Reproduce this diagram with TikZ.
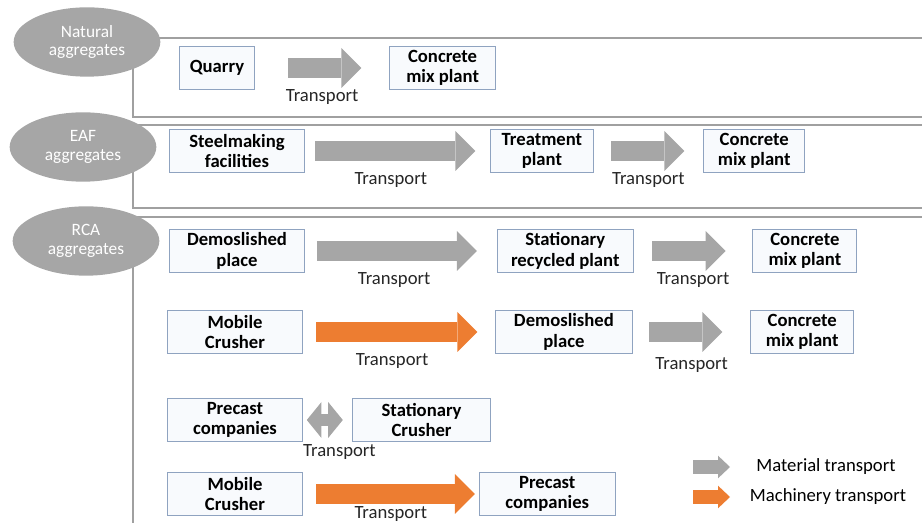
\documentclass[tikz,border=0pt]{standalone}
\usepackage{fontspec}
\setmainfont{Carlito}
\usetikzlibrary{positioning,arrows.meta,shapes.geometric}

\definecolor{matgray}{RGB}{166,166,166}
\definecolor{machorange}{RGB}{237,125,49}
\definecolor{boxline}{RGB}{143,163,192}
\definecolor{boxfill}{RGB}{248,250,253}
\definecolor{framegray}{RGB}{160,160,160}

\begin{document}
\begin{tikzpicture}[
    x=0.75pt, y=-0.75pt,
    every node/.style={inner sep=1pt},
    stage/.style={draw=boxline, fill=boxfill, line width=0.7pt, align=center,
        minimum height=32pt, minimum width=#1,
        font=\bfseries\fontsize{14}{15.5}\selectfont},
    stage/.default=101pt,
    group/.style={ellipse, fill=matgray, text=white, align=center,
        minimum width=110pt, minimum height=52pt, inner sep=0pt,
        font=\fontsize{13}{14}\selectfont},
    panel/.style={draw=framegray, line width=1.5pt},
    material/.style={draw=matgray, line width=15pt,
        -{Triangle[length=15pt,width=30pt,line width=0pt]}},
    machinery/.style={material, draw=machorange},
    transp/.style={text=black!85, font=\fontsize{14}{16}\selectfont, yshift=-22pt},
    keytext/.style={font=\fontsize{14}{16}\selectfont}
]
\useasboundingbox (0,0) rectangle (922,523);

% Rahmen der drei Gruppen
\draw[panel] (133,38) rectangle (940,117);
\draw[panel] (133,125) rectangle (940,208);
\draw[panel] (133,217) rectangle (940,560);

\node[group] (natural) at (87,42) {Natural\\aggregates};
\node[group] (eaf) at (83,147) {EAF\\aggregates};
\node[group] (rca) at (86,241) {RCA\\aggregates};

% Natural aggregates
\node[stage=56pt] (quarry) at (217,68) {Quarry};
\node[stage=79pt, right=101pt of quarry] (mixA) {Concrete\\mix plant};

\draw[material, shorten <=25pt, shorten >=21pt]
    (quarry.east) -- node[transp] {Transport} (mixA.west);

% EAF aggregates
\node[stage] (steel) at (237,151) {Steelmaking\\facilities};
\node[stage=77pt, right=139pt of steel] (treat) {Treatment\\plant};
\node[stage=76pt, right=82pt of treat] (mixB) {Concrete\\mix plant};

\draw[material, shorten <=8pt, shorten >=11pt]
    (steel.east) -- node[transp, xshift=-5pt] {Transport} (treat.west);
\draw[material, shorten <=13pt, shorten >=14pt]
    (treat.east) -- node[transp] {Transport} (mixB.west);

% RCA aggregates
\node[stage] (demoA) at (237,251) {Demoslished\\place};
\node[stage=102pt, right=144pt of demoA] (recyc) {Stationary\\recycled plant};
\node[stage=78pt, right=89pt of recyc] (mixC) {Concrete\\mix plant};

\draw[material, shorten <=9pt, shorten >=15pt]
    (demoA.east) -- node[transp, xshift=-5pt] {Transport} (recyc.west);
\draw[material, shorten <=14pt, shorten >=20pt]
    (recyc.east) -- node[transp] {Transport} (mixC.west);

\node[stage] (mobileA) at (235,332) {Mobile\\Crusher};
\node[stage=103pt, right=144pt of mobileA] (demoB) {Demoslished\\place};
\node[stage=77pt, right=88pt of demoB] (mixD) {Concrete\\mix plant};

\draw[machinery, shorten <=10pt, shorten >=13pt]
    (mobileA.east) -- node[transp, xshift=-5pt] {Transport} (demoB.west);
\draw[material, shorten <=12pt, shorten >=21pt]
    (demoB.east) -- node[transp, yshift=-3pt] {Transport} (mixD.west);

\node[stage] (precastA) at (235,420) {Precast\\companies};
\node[stage=103.5pt, right=37pt of precastA] (statcr) {Stationary\\Crusher};

\draw[draw=matgray, line width=9pt, shorten <=3pt, shorten >=7pt,
    {Triangle[length=11pt,width=27pt,line width=0pt]}-{Triangle[length=11pt,width=27pt,line width=0pt]}]
    (precastA.east) -- node[transp, xshift=9pt, yshift=-2pt] {Transport} (statcr.west);

\node[stage] (mobileB) at (235,494) {Mobile\\Crusher};
\node[stage=102pt, right=132pt of mobileB] (precastB) {Precast\\companies};

\draw[machinery, shorten <=10pt, shorten >=3pt]
    (mobileB.east) -- node[transp, yshift=7pt] {Transport} (precastB.west);

% Legende
\node[keytext] (matkey) at (826,467) {Material transport};
\node[keytext] (machkey) at (828,497) {Machinery transport};
\coordinate (matA) at (693,467);
\coordinate (machA) at (693,497);

\draw[material, line width=10pt, -{Triangle[length=9pt,width=17pt,line width=0pt]}]
    (matA) -- ++(37,0);
\draw[machinery, line width=10pt, -{Triangle[length=9pt,width=17pt,line width=0pt]}]
    (machA) -- ++(37,0);

\end{tikzpicture}
\end{document}
